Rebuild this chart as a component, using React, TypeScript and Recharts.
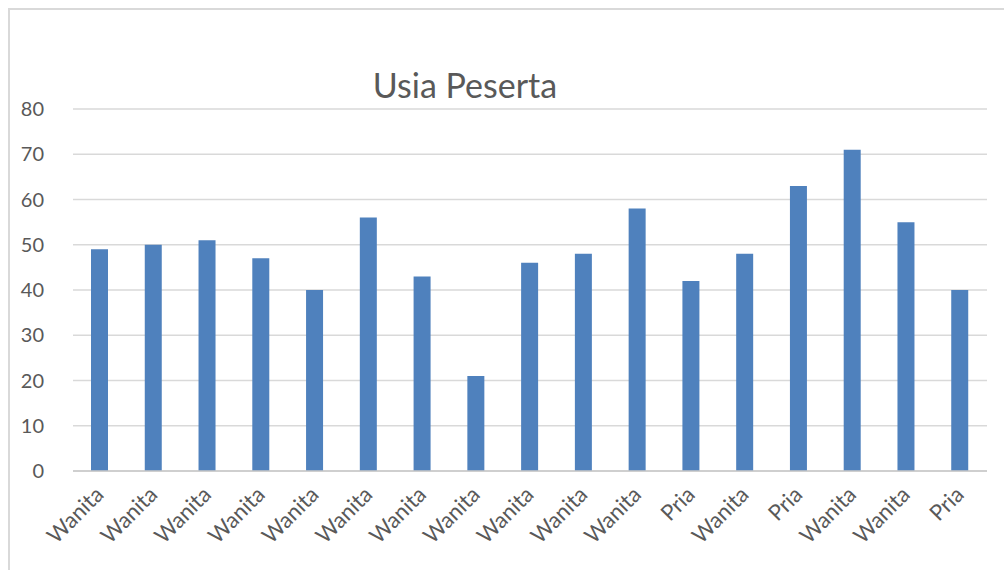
import { BarChart, Bar, XAxis, YAxis, CartesianGrid } from 'recharts';

const categories = ['Wanita', 'Wanita', 'Wanita', 'Wanita', 'Wanita', 'Wanita', 'Wanita', 'Wanita', 'Wanita', 'Wanita', 'Wanita', 'Pria', 'Wanita', 'Pria', 'Wanita', 'Wanita', 'Pria'];
const ages = [49, 50, 51, 47, 40, 56, 43, 21, 46, 48, 58, 42, 48, 63, 71, 55, 40];
const yTicks = [0, 10, 20, 30, 40, 50, 60, 70, 80];

const data = categories.map((c, i) => ({ key: i, label: c, value: ages[i] }));

const FONT = 'Lato, "Open Sans", sans-serif';

const RotatedTick = ({ x, y, payload }: any) => {
  const label = data[payload.value]?.label ?? '';
  return (
    <g transform={`translate(${x + 5},${y + 17})`}>
      <text transform="rotate(-45)" textAnchor="end" fill="#595959" fontSize={22} fontFamily={FONT}>
        {label}
      </text>
    </g>
  );
};

export default function App() {
  return (
    <div style={{ position: 'absolute', left: 0, top: 0, width: 1004, height: 570, background: '#fff', overflow: 'hidden' }}>
      <div style={{ position: 'absolute', left: 8, top: 8, width: 1010, height: 580, border: '2px solid #d9d9d9', boxSizing: 'border-box' }} />
      <div style={{ position: 'absolute', left: 0, top: 64, width: 930, textAlign: 'center', fontFamily: FONT, fontSize: 34, lineHeight: '42px', color: '#595959' }}>
        Usia Peserta
      </div>
      <div style={{ position: 'absolute', left: 0, top: 0 }}>
        <BarChart width={1004} height={570} data={data} margin={{ top: 109, right: 17, left: 13, bottom: 19 }}>
          <CartesianGrid vertical={false} stroke="#d9d9d9" strokeWidth={1.5} />
          <XAxis
            dataKey="key"
            interval={0}
            height={80}
            tick={<RotatedTick />}
            tickLine={false}
            axisLine={{ stroke: '#c8c8c8', strokeWidth: 1.5 }}
          />
          <YAxis
            width={60}
            domain={[0, 80]}
            ticks={yTicks}
            interval={0}
            tickLine={false}
            axisLine={false}
            tickMargin={23}
            tick={{ fill: '#595959', fontSize: 20, fontFamily: FONT }}
          />
          <Bar dataKey="value" fill="#4f81bd" barSize={17} isAnimationActive={false} />
        </BarChart>
      </div>
    </div>
  );
}
